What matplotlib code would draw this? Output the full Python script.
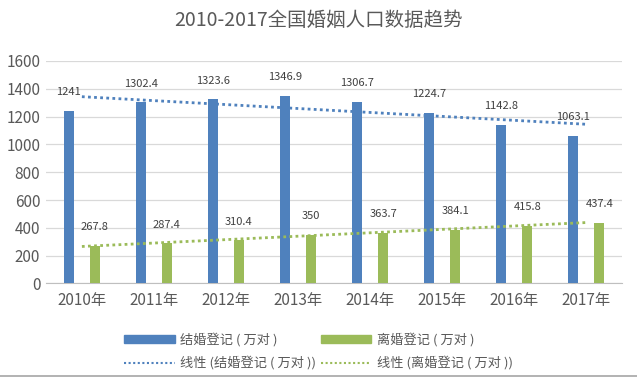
import matplotlib
matplotlib.use("Agg")
import matplotlib.pyplot as plt
import numpy as np
from matplotlib.patches import Patch
from matplotlib.lines import Line2D

plt.rcParams['font.family'] = ['Noto Sans CJK SC', 'DejaVu Sans']

years = ["2010年", "2011年", "2012年", "2013年", "2014年", "2015年", "2016年", "2017年"]
marriage = [1241, 1302.4, 1323.6, 1346.9, 1306.7, 1224.7, 1142.8, 1063.1]
divorce = [267.8, 287.4, 310.4, 350, 363.7, 384.1, 415.8, 437.4]
marriage_labels = ["1241", "1302.4", "1323.6", "1346.9", "1306.7", "1224.7", "1142.8", "1063.1"]
divorce_labels = ["267.8", "287.4", "310.4", "350", "363.7", "384.1", "415.8", "437.4"]
yticks = [0, 200, 400, 600, 800, 1000, 1200, 1400, 1600]

BLUE = "#4F81BD"
GREEN = "#9BBB59"
TXT = "#595959"

fig = plt.figure(figsize=(6.37, 3.81), dpi=100)
ax = fig.add_axes([0.072, 0.256, 0.905, 0.584])

x = np.arange(len(years))
w = 0.14
off = 0.18
ax.bar(x - off, marriage, w, color=BLUE, zorder=3)
ax.bar(x + off, divorce, w, color=GREEN, zorder=3)

# linear trendlines
pm = np.polyfit(x, marriage, 1)
pd_ = np.polyfit(x, divorce, 1)
ax.plot(x, np.polyval(pm, x), color=BLUE, ls=(0, (1, 1.2)), lw=2, zorder=4)
ax.plot(x, np.polyval(pd_, x), color=GREEN, ls=(0, (1, 1.2)), lw=2, zorder=4)

for xi, v, s in zip(x, marriage, marriage_labels):
    ax.annotate(s, (xi - off, v), xytext=(0, 13.5), textcoords="offset points",
                ha="center", va="center", fontsize=8, color="#404040", zorder=5)
for xi, v, s in zip(x, divorce, divorce_labels):
    ax.annotate(s, (xi + off, v), xytext=(0, 13.5), textcoords="offset points",
                ha="center", va="center", fontsize=8, color="#404040", zorder=5)

ax.set_xlim(-0.5, 7.5)
ax.set_ylim(0, 1600)
ax.set_yticks(yticks)
ax.set_yticklabels([str(t) for t in yticks])
ax.set_xticks(x)
ax.set_xticklabels(years)
ax.tick_params(axis="both", length=0, colors=TXT, labelsize=11)
ax.tick_params(axis="x", pad=6)
ax.tick_params(axis="y", pad=4)
ax.grid(axis="y", color="#D9D9D9", lw=0.9, zorder=0)
for sp in ["top", "right", "left"]:
    ax.spines[sp].set_visible(False)
ax.spines["bottom"].set_color("#BFBFBF")

fig.text(0.5, 0.945, "2010-2017全国婚姻人口数据趋势", ha="center", va="center",
         fontsize=14, color=TXT)

handles = [
    Patch(color=BLUE, label="结婚登记 ( 万对 )"),
    Line2D([], [], color=BLUE, ls=(0, (1, 1.2)), lw=1.5, label="线性 (结婚登记 ( 万对 ))"),
    Patch(color=GREEN, label="离婚登记 ( 万对 )"),
    Line2D([], [], color=GREEN, ls=(0, (1, 1.2)), lw=1.5, label="线性 (离婚登记 ( 万对 ))"),
]
leg = fig.legend(handles=handles, ncol=2, loc="center", bbox_to_anchor=(0.50, 0.078),
                 frameon=False, fontsize=9.5, handlelength=3.8, handleheight=0.45,
                 columnspacing=0.4, handletextpad=0.4, labelspacing=0.7)
for t in leg.get_texts():
    t.set_color(TXT)

fig.add_artist(Line2D([0, 1], [0.012, 0.012], transform=fig.transFigure, color="#A6A6A6", lw=1.2))

fig.savefig("out.png", dpi=100)
